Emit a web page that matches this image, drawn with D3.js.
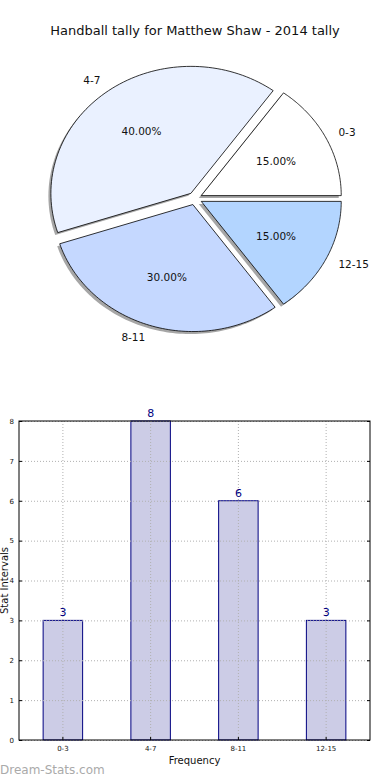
<!DOCTYPE html>
<html><head><meta charset="utf-8">
<script src="https://cdn.jsdelivr.net/npm/d3@7"></script>
<style>body{margin:0;background:#fff}svg{display:block}text{font-family:"DejaVu Sans",sans-serif}</style>
</head><body><svg id="c" width="390" height="780"></svg>
<script>
const title = "Handball tally for Matthew Shaw - 2014 tally";
const categories = ["0-3","4-7","8-11","12-15"];
const counts = [3,8,6,3];
const pieColors = ["#ffffff","#eaf1ff","#c5d8ff","#b3d5ff"];
const yTicks = [0,1,2,3,4,5,6,7,8];
const xLabel = "Frequency", yLabel = "Stat Intervals", watermark = "Dream-Stats.com";

const svg = d3.select("#c");
svg.append("text").attr("x",195).attr("y",35).attr("text-anchor","middle").attr("font-size",13).attr("fill","#111").text(title);

// Pie (matplotlib style: counter-clockwise from 3 o'clock, elliptical)
const cx=195, cy=198.5, rx=140, ry=127, explode=0.05;
const total = d3.sum(counts);
const pie = d3.pie().sort(null).value(d=>d).startAngle(0).endAngle(2*Math.PI);
const arcs = pie(counts);
const pg = svg.append("g");
function pathFor(a, ox, oy){
  const t1=a.startAngle, t2=a.endAngle;
  const pts=[[ox,oy]];
  const n=80;
  for(let i=0;i<=n;i++){const t=t1+(t2-t1)*i/n; pts.push([ox+rx*Math.cos(t), oy-ry*Math.sin(t)]);}
  return d3.line()(pts)+"Z";
}
arcs.forEach((a,i)=>{
  const tm=(a.startAngle+a.endAngle)/2;
  const ox=cx+explode*rx*Math.cos(tm), oy=cy-explode*ry*Math.sin(tm);
  pg.append("path").attr("d",pathFor(a,ox-2.5,oy+2.5)).attr("fill","#000").attr("opacity",0.35);
});
arcs.forEach((a,i)=>{
  const tm=(a.startAngle+a.endAngle)/2;
  const ox=cx+explode*rx*Math.cos(tm), oy=cy-explode*ry*Math.sin(tm);
  pg.append("path").attr("d",pathFor(a,ox,oy)).attr("fill",pieColors[i]).attr("stroke","#000").attr("stroke-width",0.8);
  const c=Math.cos(tm), s=Math.sin(tm);
  pg.append("text").attr("x",ox+1.1*rx*c).attr("y",oy-1.1*ry*s).attr("dy","0.35em")
    .attr("text-anchor",c>0?"start":"end").attr("font-size",10.5).attr("fill","#111").text(categories[i]);
  pg.append("text").attr("x",ox+0.6*rx*c).attr("y",oy-0.6*ry*s).attr("dy","0.35em")
    .attr("text-anchor","middle").attr("font-size",10.5).attr("fill","#111")
    .text((a.value/total*100).toFixed(2)+"%");
});

// Bar chart
const L=19,R=370,T=421,B=740;
const x = d3.scaleBand().domain(categories).range([L,R]).paddingInner(0.55).paddingOuter(0.275);
const y = d3.scaleLinear().domain([0,8]).range([B,T]);
const bg = svg.append("g");
bg.selectAll("rect.bar").data(counts).join("rect").attr("class","bar")
  .attr("x",(d,i)=>x(categories[i])).attr("y",d=>y(d)).attr("width",x.bandwidth()).attr("height",d=>B-y(d))
  .attr("fill","#ccccE6").attr("stroke","#000080").attr("stroke-width",1);
const grid = bg.append("g").attr("stroke","#b0b0b0").attr("stroke-dasharray","1,2").attr("stroke-width",1);
yTicks.forEach(t=>grid.append("line").attr("x1",L).attr("x2",R).attr("y1",y(t)+0.5).attr("y2",y(t)+0.5));
categories.forEach(c=>grid.append("line").attr("x1",x(c)+x.bandwidth()/2).attr("x2",x(c)+x.bandwidth()/2).attr("y1",T).attr("y2",B));
const yAxis = d3.axisLeft(y).tickValues(yTicks).tickSize(-3).tickPadding(5).tickFormat(d3.format("d"));
const ya = bg.append("g").attr("transform",`translate(${L},0)`).call(yAxis);
const xAxis = d3.axisBottom(x).tickSize(-3).tickPadding(6);
const xa = bg.append("g").attr("transform",`translate(0,${B})`).call(xAxis);
[ya,xa].forEach(g=>{g.select(".domain").remove();g.selectAll("text").attr("font-size",7).attr("fill","#111").attr("font-family","DejaVu Sans");g.selectAll("line").attr("stroke","#000");});
const ya2 = bg.append("g").attr("transform",`translate(${R},0)`).call(d3.axisRight(y).tickValues(yTicks).tickSize(-3).tickFormat(""));
ya2.select(".domain").remove();
bg.append("rect").attr("x",L).attr("y",T).attr("width",R-L).attr("height",B-T).attr("fill","none").attr("stroke","#000").attr("stroke-width",1);
bg.selectAll("text.val").data(counts).join("text").attr("class","val")
  .attr("x",(d,i)=>x(categories[i])+x.bandwidth()/2).attr("y",d=>y(d)-4)
  .attr("text-anchor","middle").attr("font-size",11).attr("fill","#000080").text(d=>d);
svg.append("text").attr("x",(L+R)/2).attr("y",764).attr("text-anchor","middle").attr("font-size",10).attr("fill","#111").text(xLabel);
svg.append("text").attr("transform",`translate(8,${(T+B)/2}) rotate(-90)`).attr("text-anchor","middle").attr("font-size",10).attr("fill","#111").text(yLabel);
svg.append("text").attr("x",0).attr("y",774).attr("font-size",12).attr("fill","#aaa").text(watermark);
</script></body></html>
